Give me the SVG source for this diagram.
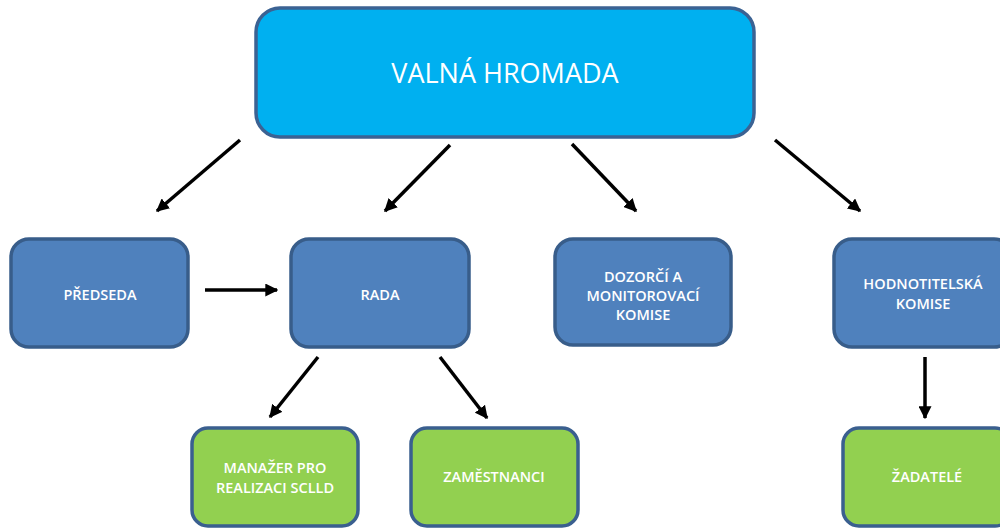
<svg xmlns="http://www.w3.org/2000/svg" width="1000" height="528" viewBox="0 0 1000 528">
<style>
.top{fill:#00B0F0;stroke:#3B6293;stroke-width:3.5}
.blue{fill:#4F81BD;stroke:#385D8A;stroke-width:3.5}
.green{fill:#92D050;stroke:#3A5F8F;stroke-width:3.5}
.t{fill:#FFFFFF;font-family:"Open Sans","Liberation Sans",sans-serif;text-anchor:middle}
.s{font-size:14.5px;font-weight:600}
.big{font-size:27px}
.c{stroke:#000;stroke-width:3.5;fill:none;marker-end:url(#ah)}
</style>
<defs>
<marker id="ah" markerUnits="userSpaceOnUse" markerWidth="13" markerHeight="13" viewBox="0 0 10 10" refX="9" refY="5" orient="auto">
<path d="M0,0 L10,5 L0,10 Z" fill="#000"/>
</marker>
</defs>
<rect width="1000" height="528" fill="#FFFFFF"/>
<g id="connectors">
<line class="c" x1="240" y1="140" x2="157" y2="211"/>
<line class="c" x1="450" y1="145" x2="385" y2="211"/>
<line class="c" x1="572" y1="144" x2="636" y2="211"/>
<line class="c" x1="775" y1="140" x2="860" y2="211"/>
<line class="c" x1="205" y1="290" x2="277" y2="290"/>
<line class="c" x1="318" y1="357" x2="270" y2="417"/>
<line class="c" x1="440" y1="357" x2="487" y2="418"/>
<line class="c" x1="925" y1="357" x2="925" y2="418"/>
</g>
<g id="valna">
<rect class="top" x="256" y="8" width="498" height="129" rx="24"/>
<text class="t big" x="505" y="83">VALNÁ HROMADA</text>
</g>
<g id="predseda">
<rect class="blue" x="11" y="239" width="177" height="108" rx="18"/>
<text class="t s" x="100" y="300">PŘEDSEDA</text>
</g>
<g id="rada">
<rect class="blue" x="291" y="239" width="178" height="108" rx="18"/>
<text class="t s" x="380" y="300">RADA</text>
</g>
<g id="dozorci">
<rect class="blue" x="555" y="239" width="176" height="106" rx="18"/>
<text class="t s" x="643" y="282">DOZORČÍ A</text>
<text class="t s" x="643" y="301">MONITOROVACÍ</text>
<text class="t s" x="643" y="320">KOMISE</text>
</g>
<g id="hodnotitelska">
<rect class="blue" x="834" y="239" width="178" height="108" rx="18"/>
<text class="t s" x="923" y="289">HODNOTITELSKÁ</text>
<text class="t s" x="923" y="309">KOMISE</text>
</g>
<g id="manazer">
<rect class="green" x="192" y="428" width="166" height="98" rx="16"/>
<text class="t s" x="275" y="473">MANAŽER PRO</text>
<text class="t s" x="275" y="493">REALIZACI SCLLD</text>
</g>
<g id="zamestnanci">
<rect class="green" x="411" y="428" width="167" height="98" rx="16"/>
<text class="t s" x="494" y="482">ZAMĚSTNANCI</text>
</g>
<g id="zadatele">
<rect class="green" x="843" y="428" width="168" height="98" rx="16"/>
<text class="t s" x="927" y="482">ŽADATELÉ</text>
</g>
</svg>
